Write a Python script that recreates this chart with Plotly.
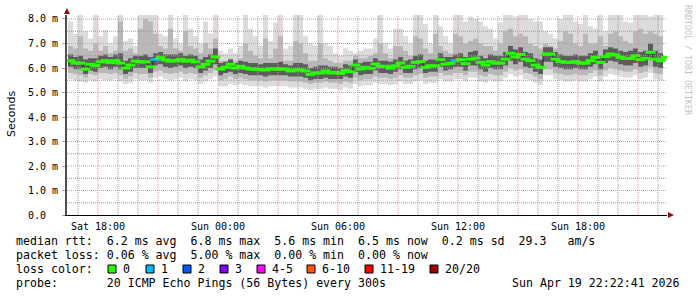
import plotly.graph_objects as go
import pandas as pd

# ---------------- data (15-minute steps starting Sat 16:30) ----------------
start_time = "2026-04-18 16:30"

median = [6.30, 6.20, 6.20, 5.95, 6.15, 6.10, 6.25, 6.30, 6.22, 6.30,
          6.20, 6.00, 6.12, 6.28, 6.25, 6.25, 6.05, 6.35, 6.42, 6.33,
          6.28, 6.30, 6.35, 6.28, 6.32, 6.25, 6.05, 6.15, 6.28, 6.45,
          5.96, 6.03, 6.15, 6.00, 6.07, 6.00, 5.96, 5.95, 5.93, 5.92,
          5.96, 5.96, 5.96, 5.95, 5.88, 5.92, 5.92, 5.88, 5.74, 5.80,
          5.80, 5.88, 5.80, 5.82, 5.78, 5.90, 5.85, 6.12, 5.96, 6.03,
          5.99, 6.16, 6.07, 6.07, 5.99, 6.09, 6.20, 6.03, 6.07, 6.23,
          6.26, 6.03, 6.09, 6.09, 6.34, 6.16, 6.19, 6.30, 6.34, 6.18,
          6.36, 6.40, 6.23, 6.12, 6.26, 6.20, 6.20, 6.36, 6.60, 6.45,
          6.55, 6.36, 6.30, 6.12, 6.03, 6.57, 6.57, 6.36, 6.26, 6.23,
          6.23, 6.26, 6.20, 6.20, 6.30, 6.43, 6.23, 6.47, 6.57, 6.53,
          6.43, 6.39, 6.39, 6.50, 6.34, 6.39, 6.64, 6.36, 6.30, 6.43]

loss = [0] * 17 + [1] + [0] * 59 + [1] + [0] * 42

smoke_max = [7.9, 7.4, 8.2, 7.5, 7.2, 8.2, 7.3, 7.55, 7.0, 7.3,
             8.2, 7.1, 7.2, 6.9, 8.2, 8.2, 8.2, 8.2, 7.4, 7.3,
             8.2, 7.2, 7.0, 8.2, 7.6, 7.3, 7.0, 7.9, 7.4, 8.2,
             6.7, 6.6, 6.8, 6.6, 6.9, 8.2, 7.6, 7.3, 6.9, 8.2,
             7.1, 7.85, 8.2, 6.8, 6.9, 8.2, 8.2, 7.3, 7.0, 6.9,
             8.2, 7.0, 6.9, 6.6, 6.5, 6.8, 6.7, 6.6, 6.7, 6.8,
             6.8, 7.2, 8.2, 7.0, 6.8, 7.6, 7.6, 7.3, 7.0, 8.2,
             8.2, 7.8, 7.0, 8.2, 7.7, 7.3, 7.0, 8.2, 8.2, 7.9,
             8.1, 8.0, 7.9, 7.7, 7.6, 7.2, 7.85, 8.2, 8.2, 8.1,
             8.2, 8.2, 8.0, 7.9, 7.9, 7.5, 7.4, 7.2, 8.0, 8.2,
             8.2, 7.9, 7.8, 8.2, 7.7, 7.6, 8.2, 7.5, 8.2, 8.2,
             8.2, 7.9, 7.85, 8.2, 8.2, 8.2, 8.1, 8.2, 8.2, 8.0]

smoke_hi2 = [6.9, 6.8, 7.3, 6.8, 6.7, 7.0, 6.7, 6.9, 6.6, 6.7,
             7.9, 6.7, 6.8, 6.6, 7.6, 8.0, 7.9, 7.4, 6.9, 6.8,
             7.6, 6.8, 6.7, 7.5, 6.9, 6.8, 6.6, 7.0, 6.8, 7.2,
             6.3, 6.3, 6.4, 6.3, 6.4, 7.0, 6.7, 6.5, 6.4, 7.2,
             6.4, 6.8, 7.3, 6.3, 6.3, 7.1, 7.0, 6.6, 6.3, 6.3,
             7.0, 6.4, 6.3, 6.2, 6.2, 6.3, 6.3, 6.5, 6.4, 6.4,
             6.5, 6.6, 7.0, 6.6, 6.4, 6.9, 6.9, 6.7, 6.5, 7.3,
             7.2, 6.8, 6.6, 7.4, 6.9, 6.7, 6.6, 7.4, 7.3, 7.0,
             7.1, 7.2, 7.0, 6.9, 6.9, 6.7, 7.0, 7.5, 7.6, 7.3,
             7.4, 7.3, 7.0, 6.9, 6.8, 7.0, 6.9, 6.8, 7.1, 7.5,
             7.4, 7.0, 6.9, 7.4, 7.0, 7.0, 7.3, 6.9, 7.4, 7.5,
             7.3, 7.1, 7.0, 7.5, 7.6, 7.4, 7.5, 7.4, 7.3, 7.2]

smoke_hi1 = [6.55, 6.45, 6.50, 6.35, 6.40, 6.40, 6.50, 6.55, 6.45, 6.55,
             6.60, 6.30, 6.40, 6.50, 6.50, 6.55, 6.45, 6.60, 6.65, 6.55,
             6.55, 6.55, 6.60, 6.50, 6.55, 6.50, 6.35, 6.45, 6.55, 6.80,
             6.20, 6.25, 6.35, 6.20, 6.30, 6.25, 6.20, 6.20, 6.15, 6.20,
             6.20, 6.20, 6.25, 6.15, 6.10, 6.20, 6.20, 6.15, 6.00, 6.05,
             6.10, 6.10, 6.05, 6.05, 6.00, 6.15, 6.10, 6.35, 6.20, 6.25,
             6.25, 6.40, 6.30, 6.30, 6.25, 6.35, 6.45, 6.30, 6.35, 6.50,
             6.55, 6.30, 6.35, 6.35, 6.60, 6.45, 6.45, 6.55, 6.60, 6.45,
             6.65, 6.70, 6.50, 6.40, 6.55, 6.50, 6.50, 6.65, 6.90, 6.75,
             6.85, 6.65, 6.60, 6.40, 6.35, 6.85, 6.85, 6.65, 6.55, 6.50,
             6.50, 6.55, 6.50, 6.50, 6.60, 6.70, 6.50, 6.75, 6.85, 6.80,
             6.70, 6.65, 6.70, 6.80, 6.65, 6.70, 7.00, 6.70, 6.60, 6.70]

smoke_lo1 = [6.05, 5.95, 5.95, 5.75, 5.90, 5.85, 6.00, 6.05, 5.95, 6.05,
             5.95, 5.75, 5.85, 6.00, 6.00, 6.00, 5.80, 6.10, 6.15, 6.05,
             6.00, 6.05, 6.10, 6.00, 6.05, 6.00, 5.80, 5.90, 6.00, 6.15,
             5.70, 5.80, 5.85, 5.75, 5.80, 5.75, 5.70, 5.70, 5.70, 5.65,
             5.70, 5.70, 5.70, 5.70, 5.65, 5.65, 5.65, 5.60, 5.50, 5.55,
             5.55, 5.60, 5.55, 5.55, 5.55, 5.65, 5.60, 5.85, 5.70, 5.75,
             5.75, 5.90, 5.80, 5.80, 5.75, 5.85, 5.95, 5.80, 5.80, 5.95,
             6.00, 5.80, 5.85, 5.85, 6.05, 5.90, 5.95, 6.05, 6.05, 5.90,
             6.10, 6.10, 5.95, 5.85, 6.00, 5.95, 5.95, 6.10, 6.30, 6.15,
             6.25, 6.05, 6.00, 5.85, 5.75, 6.25, 6.25, 6.05, 6.00, 5.95,
             5.95, 6.00, 5.95, 5.95, 6.05, 6.15, 5.95, 6.20, 6.30, 6.25,
             6.15, 6.10, 6.10, 6.20, 6.05, 6.10, 6.35, 6.05, 6.00, 6.15]

smoke_lo2 = [5.80, 5.75, 5.70, 5.60, 5.75, 5.70, 5.80, 5.80, 5.75, 5.80,
             5.70, 5.55, 5.65, 5.80, 5.75, 5.75, 5.60, 5.85, 5.90, 5.80,
             5.75, 5.80, 5.85, 5.75, 5.80, 5.75, 5.60, 5.70, 5.80, 5.90,
             5.50, 5.55, 5.65, 5.55, 5.60, 5.55, 5.50, 5.50, 5.50, 5.45,
             5.50, 5.50, 5.50, 5.50, 5.45, 5.45, 5.45, 5.40, 5.35, 5.40,
             5.40, 5.45, 5.40, 5.40, 5.35, 5.45, 5.40, 5.60, 5.50, 5.55,
             5.55, 5.65, 5.60, 5.60, 5.55, 5.60, 5.70, 5.60, 5.60, 5.70,
             5.75, 5.60, 5.65, 5.65, 5.80, 5.70, 5.70, 5.80, 5.80, 5.70,
             5.85, 5.85, 5.70, 5.65, 5.75, 5.70, 5.70, 5.85, 6.00, 5.90,
             5.95, 5.80, 5.75, 5.65, 5.55, 5.95, 5.95, 5.80, 5.75, 5.70,
             5.70, 5.75, 5.70, 5.70, 5.80, 5.90, 5.70, 5.90, 6.00, 5.95,
             5.90, 5.85, 5.85, 5.95, 5.80, 5.85, 6.05, 5.80, 5.75, 5.90]

smoke_min = [5.55, 5.50, 5.45, 5.40, 5.50, 5.45, 5.55, 5.50, 5.50, 5.55,
             5.45, 5.35, 5.40, 5.55, 5.50, 5.50, 5.40, 5.60, 5.65, 5.55,
             5.50, 5.55, 5.60, 5.45, 5.55, 5.50, 5.35, 5.45, 5.55, 5.65,
             5.25, 5.25, 5.35, 5.30, 5.35, 5.30, 5.25, 5.25, 5.25, 5.20,
             5.25, 5.25, 5.25, 5.25, 5.20, 5.20, 5.20, 5.15, 5.10, 5.15,
             5.15, 5.20, 5.15, 5.15, 5.10, 5.20, 5.15, 5.35, 5.25, 5.30,
             5.30, 5.40, 5.35, 5.35, 5.30, 5.35, 5.45, 5.35, 5.35, 5.45,
             5.50, 5.35, 5.40, 5.40, 5.55, 5.45, 5.45, 5.55, 5.55, 5.45,
             5.60, 5.60, 5.45, 5.40, 5.50, 5.45, 5.45, 5.60, 5.75, 5.65,
             5.70, 5.55, 5.50, 5.40, 5.30, 5.70, 5.70, 5.55, 5.50, 5.45,
             5.45, 5.50, 5.45, 5.45, 5.55, 5.65, 5.45, 5.65, 5.75, 5.70,
             5.65, 5.60, 5.60, 5.70, 5.55, 5.60, 5.80, 5.55, 5.50, 5.65]

y_tick_values = [0, 1, 2, 3, 4, 5, 6, 7, 8]
y_tick_labels = ["0.0\u00a0\u00a0", "1.0 m", "2.0 m", "3.0 m", "4.0 m",
                 "5.0 m", "6.0 m", "7.0 m", "8.0 m"]
x_tick_times = ["2026-04-18 18:00", "2026-04-18 21:00", "2026-04-19 00:00",
                "2026-04-19 03:00", "2026-04-19 06:00", "2026-04-19 09:00",
                "2026-04-19 12:00", "2026-04-19 15:00", "2026-04-19 18:00",
                "2026-04-19 21:00"]
x_tick_labels = ["Sat 18:00", "", "Sun 00:00", "", "Sun 06:00", "",
                 "Sun 12:00", "", "Sun 18:00", ""]

legend_line1 = "median rtt:  6.2 ms avg  6.8 ms max  5.6 ms min  6.5 ms now  0.2 ms sd  29.3   am/s"
legend_line2 = "packet loss: 0.06 % avg  5.00 % max  0.00 % min  0.00 % now"
legend_line3 = "loss color:"
legend_line4 = "probe:       20 ICMP Echo Pings (56 Bytes) every 300s"
timestamp_text = "Sun Apr 19 22:22:41 2026"
loss_labels = ["0", "1", "2", "3", "4-5", "6-10", "11-19", "20/20"]
loss_colors = ["#26ff00", "#00b8ff", "#0059ff", "#7e00ff", "#ff00ff",
               "#ff5500", "#ff0000", "#a10000"]
loss_bins = [0, 1, 2, 3, 5, 10, 19, 20]   # upper bound of each bin

# ---------------- geometry helpers ----------------
W, H = 697, 297
PL, PR, PT, PB = 67, 667, 15, 215


def px(x):
    return (x - PL) / (PR - PL)


def py(y):
    return (PB - y) / (PB - PT)


times = pd.date_range(start_time, periods=len(median), freq="15min")
mid_times = times + pd.Timedelta(minutes=7.5)


def loss_color(n):
    for b, c in zip(loss_bins, loss_colors):
        if n <= b:
            return c
    return loss_colors[-1]


fig = go.Figure()


def band(lo, hi, color):
    fig.add_trace(go.Scatter(x=times, y=lo, mode="lines", line=dict(width=0, shape="hv"),
                             hoverinfo="skip", showlegend=False))
    fig.add_trace(go.Scatter(x=times, y=hi, mode="lines", line=dict(width=0, shape="hv"),
                             fill="tonexty", fillcolor=color, hoverinfo="skip",
                             showlegend=False))


band(smoke_min, smoke_max, "#dcdcdc")
band(smoke_lo2, smoke_hi2, "#b8b8b8")
band(smoke_lo1, smoke_hi1, "#5c5c5c")

fig.add_trace(go.Scatter(x=times, y=median, mode="lines",
                         line=dict(width=1, shape="hv", color="#202020"),
                         hoverinfo="skip", showlegend=False))
fig.add_trace(go.Scatter(x=mid_times, y=median, mode="markers",
                         marker=dict(symbol="line-ew", size=7,
                                     line=dict(width=3, color=[loss_color(n) for n in loss])),
                         hoverinfo="skip", showlegend=False))

x_start = pd.Timestamp("2026-04-18 16:27")
x_end = pd.Timestamp("2026-04-19 22:27")

shapes = []
# grid (drawn above the smoke, like rrdtool)
major_col = "#e49090"
minor_col = "#9c9c9c"
for h in pd.date_range("2026-04-18 17:00", "2026-04-19 22:00", freq="1h"):
    major = h.hour % 3 == 0
    shapes.append(dict(type="line", xref="x", yref="paper", x0=h, x1=h, y0=0, y1=1,
                       layer="above",
                       line=dict(color=major_col if major else minor_col, width=1,
                                 dash="1px,1px")))
for k in range(1, 17):
    v = k * 0.5
    major = k % 2 == 0
    shapes.append(dict(type="line", xref="paper", yref="y", x0=0, x1=1, y0=v, y1=v,
                       layer="above",
                       line=dict(color=major_col if major else minor_col, width=1,
                                 dash="1px,1px")))
# axis arrows
shapes.append(dict(type="path", xref="paper", yref="paper", xsizemode="pixel",
                   ysizemode="pixel", xanchor=0, yanchor=1,
                   path="M-3,1 L3,1 L0,7 Z", fillcolor="#8b1010",
                   line=dict(width=0)))
shapes.append(dict(type="path", xref="paper", yref="paper", xsizemode="pixel",
                   ysizemode="pixel", xanchor=1, yanchor=0,
                   path="M1,-3 L1,3 L7,0 Z", fillcolor="#8b1010",
                   line=dict(width=0)))

annotations = []
MONO = "DejaVu Sans Mono"
LEG_SIZE = 11.6


def text_at(x, y, s, size=LEG_SIZE, xanchor="left", color="#000000", angle=0, family=MONO):
    annotations.append(dict(x=px(x), y=py(y), xref="paper", yref="paper", text=s,
                            showarrow=False, xanchor=xanchor, yanchor="middle",
                            textangle=angle, borderpad=0, borderwidth=0,
                            font=dict(family=family, size=size, color=color)))


text_at(16, 241, legend_line1.replace(" ", "\u00a0"))
text_at(16, 255, legend_line2.replace(" ", "\u00a0"))
text_at(16, 269, legend_line3.replace(" ", "\u00a0"))
text_at(16, 283, legend_line4.replace(" ", "\u00a0"))
text_at(680, 283, timestamp_text.replace(" ", "\u00a0"), xanchor="right")

sq_x = [108, 146, 183, 220, 257, 307, 365, 430]
for xs, lab, col in zip(sq_x, loss_labels, loss_colors):
    shapes.append(dict(type="rect", xref="paper", yref="paper",
                       x0=px(xs), x1=px(xs + 8), y0=py(273), y1=py(265),
                       fillcolor=col, line=dict(color="#000000", width=1), layer="above"))
    text_at(xs + 15, 269, lab)

text_at(11, 114, "Seconds", size=11, xanchor="center", angle=-90, family="DejaVu Sans")
text_at(688, 60, "RRDTOOL / TOBI OETIKER", size=8.3, xanchor="center", angle=90,
        color="#c4c4c4")

fig.update_layout(
    width=W, height=H,
    margin=dict(l=PL, r=W - PR, t=PT, b=H - PB, pad=0),
    paper_bgcolor="white", plot_bgcolor="white",
    shapes=shapes, annotations=annotations,
    showlegend=False,
    xaxis=dict(type="date", range=[x_start, x_end], showgrid=False, zeroline=False,
               tickvals=pd.to_datetime(x_tick_times), ticktext=x_tick_labels,
               ticks="", showline=True, linecolor="#000000", linewidth=1,
               tickfont=dict(family=MONO, size=10, color="#000000"),
               ticklabelstandoff=2, fixedrange=True),
    yaxis=dict(range=[0, 8.163], showgrid=False, zeroline=False,
               tickvals=y_tick_values, ticktext=y_tick_labels,
               ticks="outside", ticklen=3, tickcolor="#e49090",
               showline=True, linecolor="#505050", linewidth=2,
               tickfont=dict(family=MONO, size=10, color="#000000"),
               ticklabelstandoff=2, fixedrange=True),
)

fig.write_html("out.html")
